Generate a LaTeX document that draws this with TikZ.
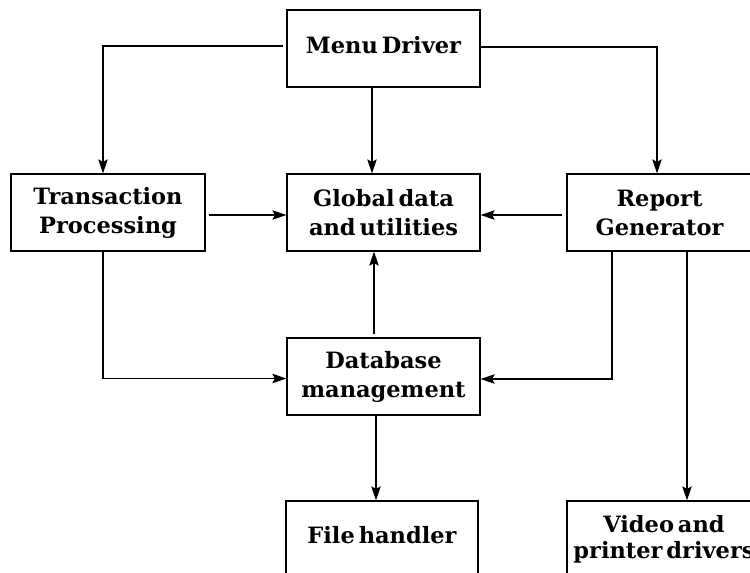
\documentclass[tikz,border=0pt]{standalone}
\usepackage{fontspec}
\setmainfont{DejaVu Serif}
\usetikzlibrary{arrows.meta,calc}
\newcommand{\tightsp}{\spaceskip=4pt plus 1pt minus 1pt\relax}
\newcommand{\upby}[2]{\raisebox{#1}[\height][0pt]{#2}}
\begin{document}
\begin{tikzpicture}[x=1pt,y=-1pt,
  box/.style={draw,line width=1.3pt,rectangle,minimum width=193pt,minimum height=77pt,
    inner sep=0pt,align=center,
    font=\fontsize{22.5}{29}\selectfont\bfseries\tightsp},
  arr/.style={line width=1.1pt,-{Stealth[length=14pt,width=9.5pt,inset=2.5pt]}}]
\path[use as bounding box,clip] (0,0) rectangle (750,573);
\node[box] (md) at (383.5,48.5) {\upby{3.5pt}{Menu Driver}};
\node[box,minimum width=194pt] (tp) at (108,212.5) {Transaction\\Processing};
\node[box] (gd) at (383.5,212.5) {Global data\\and utilities};
\node[box,minimum width=185pt] (rg) at (659.5,212.5) {Report\\Generator};
\node[box] (db) at (383.5,376.5) {Database\\management};
\node[box,minimum width=192pt] (fh) at (382,539.5) {\upby{5pt}{File handler}};
\node[box,minimum width=194pt,font=\fontsize{22.5}{26}\selectfont\bfseries\tightsp] (vp) at (664,539.5) {Video and\\printer drivers};
% connectors
\draw[arr] ($(md.west)+(-3,-2.5)$) -| ($(tp.north)+(-5,0)$);
\draw[arr] ($(md.east)+(0,-1.5)$) -| ($(rg.north)+(-2.5,0)$);
\draw[arr] ($(md.south)+(-11.5,0)$) -- ($(gd.north)+(-11.5,0)$);
\draw[arr] ($(tp.east)+(3,2.5)$) -- ($(gd.west)+(0,2.5)$);
\draw[arr] ($(rg.west)+(-4,2.5)$) -- ($(gd.east)+(0,2.5)$);
\draw[arr] ($(db.north)+(-9.5,-3)$) -- ($(gd.south)+(-9.5,0)$);
\draw[arr] ($(tp.south)+(-5,0)$) |- ($(db.west)+(0,2)$);
\draw[arr] ($(rg.south)+(-47.5,0)$) |- ($(db.east)+(0,2.5)$);
\draw[arr] ($(rg.south)+(27.5,0)$) -- ($(vp.north)+(23,0)$);
\draw[arr] ($(db.south)+(-7.5,0)$) -- ($(fh.north)+(-6,0)$);
\end{tikzpicture}
\end{document}
